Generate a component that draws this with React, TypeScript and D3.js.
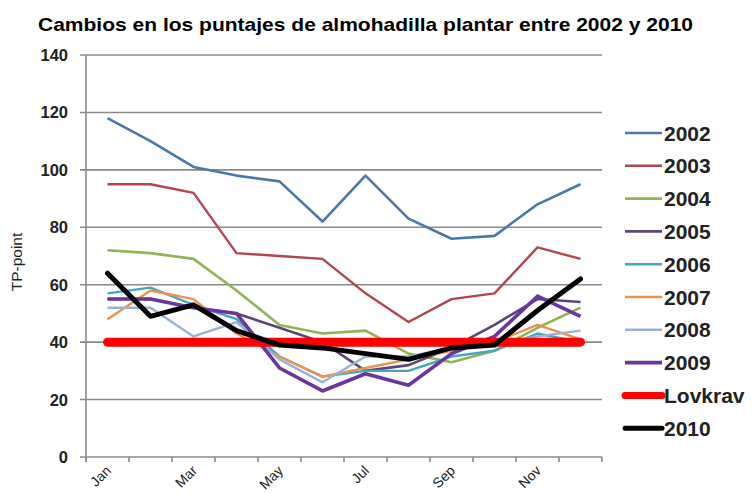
import React from "react";
import * as d3 from "d3";

const months = ["Jan", "Feb", "Mar", "Apr", "May", "Jun", "Jul", "Aug", "Sep", "Oct", "Nov", "Dec"];
const shownMonths = ["Jan", "Mar", "May", "Jul", "Sep", "Nov"];
const yTicks = [0, 20, 40, 60, 80, 100, 120, 140];

const v2002 = [118, 110, 101, 98, 96, 82, 98, 83, 76, 77, 88, 95];
const v2003 = [95, 95, 92, 71, 70, 69, 57, 47, 55, 57, 73, 69];
const v2004 = [72, 71, 69, 58, 46, 43, 44, 36, 33, 37, 45, 52];
const v2005 = [55, 55, 52, 50, 45, 40, 30, 32, 38, 46, 55, 54];
const v2006 = [57, 59, 53, 48, 35, 28, 30, 30, 35, 37, 43, 40];
const v2007 = [48, 58, 55, 43, 35, 28, 31, 34, 37, 40, 46, 41];
const v2008 = [52, 52, 42, 47, 34, 26, 35, 35, 38, 39, 42, 44];
const v2009 = [55, 55, 52, 50, 31, 23, 29, 25, 36, 42, 56, 49];
const vLovkrav = [40, 40, 40, 40, 40, 40, 40, 40, 40, 40, 40, 40];
const v2010 = [64, 49, 53, 44, 39, 38, 36, 34, 38, 39, 51, 62];

const seriesNames = ["2002", "2003", "2004", "2005", "2006", "2007", "2008", "2009", "Lovkrav", "2010"];
const seriesValues = [v2002, v2003, v2004, v2005, v2006, v2007, v2008, v2009, vLovkrav, v2010];
const seriesColors = ["#4a78ad", "#b0474c", "#92b356", "#5a4775", "#45a6c0", "#ea9250", "#9bb2d3", "#6b35a0", "#ff0000", "#000000"];
const seriesWidths = [2.6, 2.4, 2.6, 2.6, 2.4, 2.4, 2.4, 3.6, 9, 5];

const W = 756;
const H = 493;
const left = 86;
const right = 602;
const top = 55;
const bottom = 457;

export default function App() {
  const x = d3.scaleBand<string>().domain(months).range([left, right]).padding(0);
  const y = d3.scaleLinear().domain([0, 140]).range([bottom, top]);
  const cx = (m: string) => (x(m) as number) + x.bandwidth() / 2;

  const line = d3
    .line<number>()
    .x((_, i) => cx(months[i]))
    .y((d) => y(d));

  const boundaries = d3.range(months.length + 1).map((i) => left + i * x.bandwidth());

  const legendX = 625;
  const legendY0 = 133;
  const legendStep = 32.8;

  return (
    <svg
      width={W}
      height={H}
      style={{ position: "absolute", left: 0, top: 0, background: "#ffffff" }}
      fontFamily="Liberation Sans, Arial, sans-serif"
    >
      <rect x={0} y={0} width={W} height={H} fill="#ffffff" />
      <text x={38} y={31} fontSize={19} fontWeight="bold" fill="#000" textLength={655} lengthAdjust="spacingAndGlyphs">
        Cambios en los puntajes de almohadilla plantar entre 2002 y 2010
      </text>

      {/* horizontal grid and value ticks */}
      {yTicks.map((t) => (
        <g key={t}>
          <line x1={left - 6} x2={right} y1={y(t)} y2={y(t)} stroke="#8a8a8a" strokeWidth={1.6} />
          <text x={68} y={y(t)} dy="0.36em" textAnchor="end" fontSize={16.5} fontWeight="bold" fill="#222">
            {t}
          </text>
        </g>
      ))}

      {/* axes */}
      <line x1={left} x2={left} y1={top} y2={bottom + 5} stroke="#8a8a8a" strokeWidth={1.6} />
      {boundaries.map((b, i) => (
        <line key={i} x1={b} x2={b} y1={bottom} y2={bottom + 5} stroke="#8a8a8a" strokeWidth={1.6} />
      ))}
      {shownMonths.map((m) => (
        <text
          key={m}
          transform={`translate(${cx(m) + 1},${bottom + 11}) rotate(-45)`}
          textAnchor="end"
          dy="0.35em"
          fontSize={14}
          fill="#222"
        >
          {m}
        </text>
      ))}

      <text transform={`translate(22,262) rotate(-90)`} textAnchor="middle" fontSize={15.5} fill="#222">
        TP-point
      </text>

      {/* series */}
      {seriesValues.map((vals, i) => (
        <path
          key={seriesNames[i]}
          d={line(vals) || ""}
          fill="none"
          stroke={seriesColors[i]}
          strokeWidth={seriesWidths[i]}
          strokeLinejoin="round"
          strokeLinecap={i >= 8 ? "round" : "butt"}
        />
      ))}

      {/* legend */}
      {seriesNames.map((n, i) => {
        const ly = legendY0 + i * legendStep;
        return (
          <g key={n}>
            <line
              x1={legendX}
              x2={legendX + 37}
              y1={ly}
              y2={ly}
              stroke={seriesColors[i]}
              strokeWidth={Math.min(seriesWidths[i], 7)}
              strokeLinecap={i >= 8 ? "round" : "butt"}
            />
            <text x={legendX + 39} y={ly} dy="0.36em" fontSize={21} fontWeight="bold" fill="#222">
              {n}
            </text>
          </g>
        );
      })}
    </svg>
  );
}
